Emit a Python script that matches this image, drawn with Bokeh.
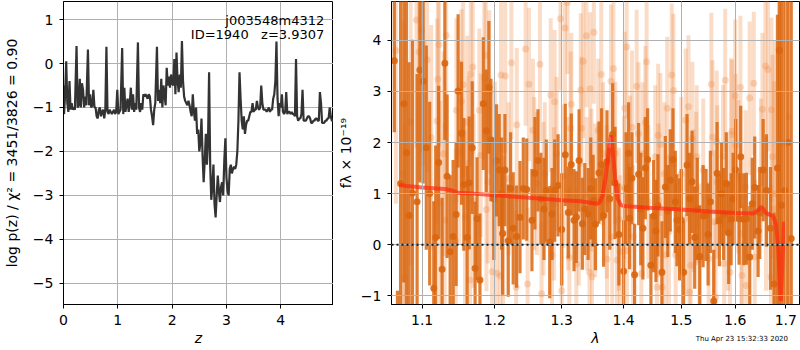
from bokeh.plotting import figure
from bokeh.layouts import row, column
from bokeh.models import (ColumnDataSource, FixedTicker, Label, Span, Div,
                          CustomJSTickFormatter, PrintfTickFormatter)
from bokeh.embed import file_html
from bokeh.resources import INLINE

# ---------------- left panel data: log p(z) ----------------
z_grid = [0.00, 0.01, 0.03, 0.05, 0.07, 0.09, 0.11, 0.13, 0.15, 0.17, 0.19, 0.21, 0.24, 0.26, 0.28, 0.30,
          0.32, 0.34, 0.36, 0.38, 0.40, 0.42, 0.45, 0.47, 0.49, 0.51, 0.53, 0.55, 0.57, 0.59, 0.61, 0.63,
          0.65, 0.67, 0.69, 0.71, 0.73, 0.75, 0.77, 0.79, 0.81, 0.83, 0.85, 0.87, 0.89, 0.91, 0.93, 0.95,
          0.97, 0.99, 1.01, 1.03, 1.05, 1.08, 1.10, 1.12, 1.14, 1.16, 1.18, 1.20, 1.22, 1.24, 1.26, 1.28,
          1.30, 1.32, 1.34, 1.37, 1.39, 1.41, 1.43, 1.45, 1.47, 1.49, 1.51, 1.53, 1.55, 1.57, 1.59, 1.61,
          1.63, 1.65, 1.67, 1.69, 1.72, 1.74, 1.76, 1.78, 1.80, 1.82, 1.84, 1.86, 1.88, 1.90, 1.92, 1.94,
          1.96, 1.98, 2.00, 2.02, 2.04, 2.06, 2.08, 2.10, 2.12, 2.14, 2.16, 2.18, 2.20, 2.22, 2.24, 2.26,
          2.28, 2.30, 2.32, 2.34, 2.36, 2.38, 2.40, 2.42, 2.44, 2.46, 2.48, 2.50, 2.52, 2.54, 2.56, 2.58,
          2.60, 2.62, 2.64, 2.66, 2.68, 2.70, 2.72, 2.74, 2.76, 2.78, 2.80, 2.82, 2.84, 2.86, 2.88, 2.90,
          2.92, 2.94, 2.96, 2.98, 3.00, 3.02, 3.04, 3.06, 3.08, 3.10, 3.12, 3.14, 3.16, 3.18, 3.20, 3.22,
          3.24, 3.26, 3.28, 3.30, 3.32, 3.34, 3.36, 3.38, 3.40, 3.42, 3.44, 3.46, 3.48, 3.50, 3.52, 3.54,
          3.56, 3.58, 3.60, 3.62, 3.64, 3.66, 3.68, 3.70, 3.72, 3.74, 3.76, 3.78, 3.80, 3.82, 3.84, 3.86,
          3.88, 3.90, 3.92, 3.94, 3.96, 3.98, 4.00, 4.02, 4.04, 4.06, 4.08, 4.10, 4.12, 4.14, 4.16, 4.18,
          4.20, 4.22, 4.24, 4.26, 4.28, 4.30, 4.32, 4.34, 4.36, 4.38, 4.40, 4.42, 4.44, 4.46, 4.48, 4.50,
          4.52, 4.54, 4.56, 4.58, 4.60, 4.62, 4.64, 4.66, 4.68, 4.70, 4.72, 4.74, 4.76, 4.78, 4.80, 4.82,
          4.84, 4.86, 4.88, 4.90, 4.92, 4.94, 4.96]
log_pz = [-0.50, -1.15, -0.70, 0.05, -0.90, -1.10, -0.40, -1.05, -0.90, -1.05, -1.00, -1.05, 0.40, -1.00, -0.95, -0.35,
          -1.00, -0.45, -0.60, -1.00, -0.75, -0.95, 0.32, -0.95, -0.70, -1.00, -0.95, -0.60, -1.00, -1.00, -1.20, -1.25,
          -1.05, -1.00, -1.20, -1.10, -1.05, -1.25, -1.05, 0.38, -1.10, -1.15, -1.05, -1.10, -1.15, -1.10, -1.05, -1.15,
          -1.10, -0.60, -1.15, -1.10, -1.05, 0.35, -1.15, -0.55, -1.10, -0.95, -0.80, -1.10, -0.90, -0.55, -1.05, -0.70,
          -1.10, -0.90, -1.05, 0.48, -1.00, -1.10, -0.90, -1.05, -0.70, -0.75, -0.70, -0.75, -0.80, -0.70, -0.75, -1.05,
          -1.20, -1.40, -1.05, -0.90, 0.38, -0.85, -0.60, -0.90, -0.35, -1.00, -0.50, -0.70, -0.95, -0.10, -0.50, -0.30,
          -0.55, -0.25, -0.45, -0.50, 0.10, -0.70, 0.25, -0.40, -0.65, -0.25, -0.55, 0.51, -0.40, -0.75, -0.85, -0.90,
          -0.95, -0.85, -0.95, -1.10, -1.20, -0.70, -1.10, -1.30, -1.00, -1.60, -1.50, -2.00, -1.80, -1.25, -2.10, -2.70,
          -2.20, -1.60, -2.30, -1.80, -0.20, -2.30, -3.10, -2.80, -2.30, -3.20, -3.50, -3.00, -2.55, -2.90, -3.15, -2.80,
          -2.70, -3.00, -2.20, -1.70, -2.60, -2.90, -3.00, -2.40, -2.30, -2.50, -2.40, -2.35, -2.40, -2.30, -2.00, -1.30,
          -0.20, -0.80, -1.30, -1.50, -1.20, -1.60, -1.40, -1.30, -1.30, -1.20, -1.10, -1.10, -0.90, -1.10, -1.05, -1.05,
          -0.85, -1.00, -1.05, -1.00, -0.50, -0.90, -1.05, -1.05, -1.05, -1.10, -1.05, -1.00, -1.10, -1.05, -1.05, -0.80,
          -0.70, -0.40, 0.50, -0.80, -1.20, -0.90, -1.00, -0.70, -1.10, -1.15, -1.10, -0.65, -1.15, -1.10, -1.10, -1.15,
          -1.10, -1.15, -1.15, -1.20, 0.10, -1.20, -1.30, -1.25, -1.25, -1.15, -0.60, -1.30, -1.30, -1.30, -1.25, -1.20,
          -1.20, -1.25, -1.35, -1.35, -1.30, -1.30, -1.25, -1.25, -1.30, -1.30, -0.65, -0.90, -1.35, -1.35, -1.35, -1.30,
          -1.30, -1.25, -1.25, -1.00, -1.20, -1.30, -1.30]

# ---------------- right panel data: spectrum ----------------
# dark (grism 1) points: wavelength, flux, error
wave_a = [1.064, 1.068, 1.072, 1.0762, 1.0795, 1.083, 1.0874, 1.0934, 1.097, 1.1013, 1.1055, 1.1100, 1.1154,
          1.118, 1.122, 1.1266, 1.1303, 1.1334, 1.1375, 1.1416, 1.1457, 1.1484, 1.1531, 1.1563, 1.1609, 1.1637,
          1.1680, 1.1720, 1.1748, 1.1788, 1.1835, 1.1877, 1.1915, 1.1944, 1.1985, 1.2025, 1.2063, 1.2098, 1.2112,
          1.2146, 1.2194, 1.2229, 1.2267, 1.2317, 1.2367, 1.2416, 1.2467, 1.2545, 1.2590, 1.2636, 1.2680, 1.2727,
          1.2762, 1.2815, 1.2850, 1.2891, 1.2943, 1.3000, 1.3056, 1.3103, 1.3150, 1.3193, 1.3230, 1.3273, 1.3325,
          1.3364, 1.3418, 1.3460, 1.3499, 1.3536, 1.3592, 1.3635, 1.3668, 1.3724, 1.3770, 1.3817, 1.3857, 1.3920,
          1.4000, 1.4040, 1.4083, 1.4100, 1.4140, 1.4185, 1.4253, 1.4290, 1.4327, 1.4368, 1.4408, 1.4465, 1.4512,
          1.4552, 1.4587, 1.4657, 1.4717, 1.4760, 1.4804, 1.4852, 1.4893, 1.4923, 1.4970, 1.5000, 1.5042, 1.5104,
          1.5150, 1.5195, 1.5243, 1.5290, 1.5335, 1.5397, 1.5452, 1.5490, 1.5532, 1.5594, 1.5657, 1.5700, 1.5740,
          1.5781, 1.5830, 1.5876, 1.5922, 1.5960, 1.6010, 1.6075, 1.6106, 1.6164, 1.6216, 1.6281, 1.6330, 1.6378,
          1.6445, 1.6477, 1.6544, 1.6610, 1.6690, 1.6764, 1.6830, 1.6870, 1.6912, 1.6979, 1.7040, 1.7110]
flux_a = [3.60, -1.60, 1.20, 2.76, 1.80, 0.57, 1.01, 0.84, 3.42, 3.20, 1.90, 1.00, -0.85,
          0.14, 1.61, -0.48, 3.55, 1.34, -0.14, 0.16, 0.59, 3.01, 2.18, 1.18, 0.14, 1.21,
          1.90, -0.46, 0.51, -0.69, 2.76, 2.23, 3.08, 2.05, 0.90, 1.65, 1.46, 1.00, 0.22,
          1.46, 0.08, 1.10, 0.32, 0.16, 0.54, 1.10, 1.08, 0.48, 1.40, 1.65, 0.90, 0.70,
          1.06, 0.05, 0.60, 1.06, 1.16, 0.30, 1.76, 0.63, 1.57, 0.48, 0.54, 1.65, 0.41,
          0.70, 0.60, 1.10, 0.86, 0.40, 1.41, 1.57, 0.57, 1.63, 0.90, 2.16, 1.21, 0.20,
          -0.52, 1.10, 1.79, 0.52, 1.30, -0.59, 1.38, 0.70, 0.32, 1.50, 1.67, -0.40, 0.56,
          0.27, 0.77, -0.54, 1.13, 0.66, 1.26, 1.67, 0.84, 0.48, 0.30, 0.48, -0.54, 1.56,
          0.90, 1.23, 0.14, 0.70, -0.23, 0.56, 0.58, 0.20, 0.84, -1.10, 1.40, 0.48, 1.00,
          0.60, 1.20, 0.23, 0.50, 0.90, 1.46, 0.51, 1.72, 0.50, 0.51, -0.24, 0.80, 1.12,
          0.27, 0.62, 1.46, 1.06, 0.32, -0.77, 1.50, 3.80, 0.77, 1.06, 2.00, 0.12]
err_a = [1.4, 0.7, 4.0, 3.5, 3.5, 3.0, 3.0, 2.5, 2.2, 2.0, 2.0, 1.8, 1.7,
         1.8, 1.5, 1.4, 1.5, 1.6, 1.5, 1.5, 1.4, 1.5, 1.4, 1.3, 1.4, 1.3,
         1.3, 1.3, 1.2, 1.3, 1.3, 1.2, 1.3, 1.2, 1.2, 1.1, 1.1, 1.1, 1.2,
         1.1, 1.1, 1.1, 1.1, 1.0, 1.1, 1.0, 1.0, 1.0, 1.1, 1.0, 0.9, 1.0,
         1.0, 1.1, 0.9, 1.0, 1.0, 1.1, 1.0, 0.9, 1.0, 1.0, 0.9, 1.0, 0.9,
         0.9, 0.9, 1.0, 0.9, 0.9, 1.0, 1.1, 1.0, 1.0, 1.0, 1.0, 1.1, 1.0,
         1.0, 1.1, 1.0, 1.0, 0.9, 1.0, 1.0, 1.1, 1.0, 1.0, 1.0, 1.0, 1.1,
         1.0, 1.0, 1.0, 1.0, 0.9, 1.0, 1.0, 1.0, 0.9, 1.0, 1.0, 1.0, 1.0,
         0.9, 1.0, 1.0, 1.0, 1.0, 1.0, 0.9, 1.0, 1.0, 1.0, 1.0, 0.9, 1.0,
         0.9, 1.0, 1.0, 0.9, 0.9, 1.0, 0.9, 1.0, 0.9, 0.9, 1.0, 0.9, 1.0,
         0.9, 0.9, 1.0, 1.1, 1.2, 1.4, 3.0, 6.0, 5.0, 5.0, 6.0, 5.0]

# light (grism 2) points: wavelength, flux, error
wave_b = [1.066, 1.0750, 1.0770, 1.0850, 1.0926, 1.0960, 1.0992, 1.1013, 1.1066, 1.1120, 1.1200, 1.1210,
          1.1224, 1.1240, 1.1287, 1.1300, 1.1322, 1.1450, 1.1460, 1.1500, 1.1530, 1.1553, 1.1580, 1.1610,
          1.1630, 1.1650, 1.1660, 1.1687, 1.1700, 1.1780, 1.1800, 1.1850, 1.1870, 1.1880, 1.1900, 1.1920,
          1.1960, 1.2000, 1.2030, 1.2080, 1.2090, 1.2120, 1.2150, 1.2200, 1.2240, 1.2310, 1.2320, 1.2450,
          1.2480, 1.2500, 1.2560, 1.2580, 1.2620, 1.2666, 1.2690, 1.2720, 1.2740, 1.2830, 1.2850, 1.2880,
          1.2890, 1.2920, 1.2981, 1.3000, 1.3030, 1.3051, 1.3090, 1.3100, 1.3120, 1.3140, 1.3150, 1.3230,
          1.3270, 1.3300, 1.3310, 1.3340, 1.3390, 1.3395, 1.3440, 1.3450, 1.3470, 1.3480, 1.3510, 1.3530,
          1.3580, 1.3630, 1.3660, 1.3720, 1.3725, 1.3790, 1.3810, 1.3830, 1.3860, 1.3890, 1.3920, 1.3940,
          1.4010, 1.4020, 1.4050, 1.4055, 1.4110, 1.4140, 1.4160, 1.4220, 1.4250, 1.4300, 1.4320, 1.4370,
          1.4390, 1.4420, 1.4540, 1.4570, 1.4590, 1.4600, 1.4630, 1.4660, 1.4700, 1.4720, 1.4750, 1.4780,
          1.4830, 1.4860, 1.4900, 1.5000, 1.5080, 1.5090, 1.5130, 1.5150, 1.5170, 1.5200, 1.5220, 1.5270,
          1.5280, 1.5330, 1.5400, 1.5500, 1.5550, 1.5570, 1.5600, 1.5630, 1.5650, 1.5660, 1.5770, 1.5790,
          1.5810, 1.5860, 1.5900, 1.5920, 1.5940, 1.6000, 1.6010, 1.6060, 1.6100, 1.6120, 1.6130, 1.6200,
          1.6210, 1.6280, 1.6360, 1.6380, 1.6500, 1.6530, 1.6590, 1.6600, 1.6640, 1.6700, 1.6710, 1.6730,
          1.6760, 1.6780, 1.6860, 1.6950, 1.7050]
flux_b = [3.80, 1.39, -0.65, 2.40, 4.40, 3.77, 4.20, 3.95, 3.62, 2.10, 2.42, 3.24,
          3.92, 0.82, 1.78, 0.48, 4.10, 0.08, 2.63, 1.81, 2.81, 3.13, 0.54, 2.39,
          1.59, -0.69, 3.34, 3.48, 0.86, 2.63, 1.75, 3.27, 3.71, 0.69, 1.23, 2.99,
          -0.53, 1.59, -0.56, -0.61, 3.32, 0.23, 3.30, 1.29, 3.56, -0.83, 2.35, 3.83,
          -0.77, 3.14, 2.24, 1.39, 1.20, 3.53, -0.96, 0.90, 1.39, 2.93, -0.20, 0.80,
          2.80, 1.78, 4.42, -0.90, 1.34, 4.24, 4.74, 1.00, -0.25, 2.28, 2.75, -0.38,
          0.60, 3.03, 2.28, 3.59, 4.09, 1.00, -0.54, 3.05, 1.26, -0.63, 4.16, 0.87,
          2.24, 3.33, 1.78, 0.84, -0.28, 3.20, 0.15, 3.45, 1.79, -0.30, 0.50, -0.14,
          1.12, 2.67, 3.87, -0.12, 1.52, 2.30, 0.15, 3.10, 2.17, -0.57, 1.78, 2.39,
          3.58, 0.84, 1.72, -0.83, 2.14, 0.87, 1.96, -0.83, 1.39, -0.20, 2.67, 0.26,
          3.32, 3.02, -0.20, 1.39, 2.44, 0.52, 2.70, -0.93, -0.40, 2.08, 0.86, 1.10,
          1.72, -0.30, 1.46, -0.27, 3.14, 2.11, 0.45, -1.03, 2.01, 1.23, 1.73, -0.37,
          3.22, 0.60, -0.54, 2.15, 2.22, 2.91, 1.94, 1.33, 3.08, 0.22, -0.60, 1.13,
          -0.80, 2.87, 3.16, -0.24, 1.46, 2.65, 3.50, 0.60, 3.43, -0.63, 2.64, 1.72,
          0.70, 1.00, 3.82, 2.00, 2.50]
err_b = [3.0, 3.0, 3.0, 2.8, 2.5, 2.5, 2.4, 2.4, 2.2, 2.2, 2.0, 2.0,
         2.0, 2.0, 2.0, 1.9, 1.9, 1.8, 1.8, 1.8, 1.8, 1.8, 1.7, 1.7,
         1.7, 1.7, 1.7, 1.7, 1.7, 1.6, 1.6, 1.6, 1.6, 1.6, 1.6, 1.6,
         1.6, 1.6, 1.5, 1.5, 1.5, 1.5, 1.5, 1.5, 1.5, 1.5, 1.5, 1.5,
         1.5, 1.5, 1.4, 1.5, 1.4, 1.5, 1.4, 1.5, 1.4, 1.5, 1.4, 1.5,
         1.4, 1.5, 1.4, 1.5, 1.4, 1.5, 1.4, 1.5, 1.4, 1.5, 1.4, 1.5,
         1.4, 1.5, 1.4, 1.5, 1.4, 1.5, 1.4, 1.5, 1.4, 1.5, 1.4, 1.5,
         1.4, 1.5, 1.4, 1.5, 1.4, 1.5, 1.4, 1.5, 1.4, 1.5, 1.4, 1.5,
         1.4, 1.5, 1.4, 1.5, 1.4, 1.5, 1.4, 1.5, 1.4, 1.5, 1.4, 1.5,
         1.4, 1.5, 1.4, 1.5, 1.4, 1.5, 1.4, 1.5, 1.4, 1.5, 1.4, 1.5,
         1.4, 1.5, 1.4, 1.5, 1.4, 1.5, 1.4, 1.5, 1.4, 1.5, 1.4, 1.5,
         1.4, 1.5, 1.4, 1.5, 1.4, 1.5, 1.4, 1.5, 1.4, 1.5, 1.4, 1.5,
         1.4, 1.5, 1.4, 1.5, 1.4, 1.5, 1.4, 1.5, 1.4, 1.5, 1.4, 1.5,
         1.4, 1.5, 1.4, 1.5, 1.4, 1.5, 1.5, 1.5, 1.6, 1.8, 1.8, 2.0,
         2.5, 3.0, 5.0, 6.0, 6.0]

# best-fit model
wave_m = [1.070, 1.080, 1.100, 1.130, 1.140, 1.150, 1.170, 1.200, 1.250, 1.300, 1.330, 1.355, 1.360,
          1.365, 1.370, 1.375, 1.379, 1.382, 1.386, 1.390, 1.395, 1.400, 1.450, 1.500, 1.550, 1.600,
          1.635, 1.645, 1.650, 1.655, 1.660, 1.670, 1.675, 1.680, 1.685, 1.688, 1.690, 1.692, 1.696]
flux_m = [1.17, 1.15, 1.12, 1.09, 1.06, 1.01, 1.00, 0.97, 0.92, 0.87, 0.85, 0.80, 0.82,
          0.95, 1.30, 1.80, 2.14, 1.80, 1.30, 0.90, 0.78, 0.76, 0.72, 0.69, 0.65, 0.62,
          0.61, 0.68, 0.74, 0.70, 0.62, 0.58, 0.55, 0.40, -0.10, -0.80, -1.10, -0.60, 0.45]

x_ticks_left = [0, 1, 2, 3, 4]
y_ticks_left = [-5, -4, -3, -2, -1, 0, 1]
x_ticks_right = [1.1, 1.2, 1.3, 1.4, 1.5, 1.6, 1.7]
y_ticks_right = [-1, 0, 1, 2, 3, 4]
timestamp = "Thu Apr 23 15:32:33 2020"

FONT = "DejaVu Sans"
GRID = "#b0b0b0"
HEIGHT = 350


def minus_fmt():
    return CustomJSTickFormatter(code="return String(tick).replace('-', '\u2212');")


def style(p):
    p.outline_line_color = "black"
    p.outline_line_width = 1
    p.outline_line_alpha = 1
    p.background_fill_color = "white"
    p.border_fill_color = "white"
    for ax in p.axis:
        ax.axis_line_color = "black"
        ax.major_tick_line_color = "black"
        ax.major_tick_out = 4
        ax.major_tick_in = 0
        ax.minor_tick_line_color = None
        ax.major_label_standoff = 6
        ax.major_label_text_font = FONT
        ax.major_label_text_font_size = "14px"
        ax.major_label_text_color = "black"
        ax.axis_label_text_font = FONT
        ax.axis_label_text_font_size = "14px"
        ax.axis_label_text_color = "black"
        ax.axis_label_text_font_style = "normal"
        ax.axis_label_standoff = 2
    for g in p.grid:
        g.grid_line_color = GRID
        g.grid_line_width = 1


# ---------------- left figure ----------------
p1 = figure(width=333, height=HEIGHT, x_range=(0, 4.97), y_range=(-5.48, 1.41),
            output_backend="svg", toolbar_location=None,
            min_border_left=62, min_border_right=0, min_border_top=1, min_border_bottom=46)
p1.line(z_grid, log_pz, line_color="#333333", line_width=2.2, line_alpha=1.0)
p1.xaxis.ticker = FixedTicker(ticks=x_ticks_left)
p1.yaxis.ticker = FixedTicker(ticks=y_ticks_left)
p1.xaxis.formatter = minus_fmt()
p1.yaxis.formatter = minus_fmt()
p1.xaxis.axis_label = "z"
p1.yaxis.axis_label = "log p(z) / \u03c7\u00b2 = 3451/3826 = 0.90"
style(p1)
p1.xaxis.axis_label_text_font_style = "italic"
p1.yaxis.axis_label_standoff = 10
p1.add_layout(Label(x=4.80, y=0.98, text="j003548m4312", text_align="right",
                    text_baseline="alphabetic", text_font=FONT, text_font_size="13px",
                    text_color="black"))
p1.add_layout(Label(x=4.80, y=0.67, text="ID=1940\u00a0\u00a0\u00a0z=3.9307", text_align="right",
                    text_baseline="alphabetic", text_font=FONT, text_font_size="13px",
                    text_color="black"))

# ---------------- right figure ----------------
src_a = ColumnDataSource(dict(x=wave_a, y=flux_a,
                              lo=[f - e for f, e in zip(flux_a, err_a)],
                              hi=[f + e for f, e in zip(flux_a, err_a)]))
src_b = ColumnDataSource(dict(x=wave_b, y=flux_b,
                              lo=[f - e for f, e in zip(flux_b, err_b)],
                              hi=[f + e for f, e in zip(flux_b, err_b)]))

p2 = figure(width=467, height=HEIGHT, x_axis_type="log", x_range=(1.0604, 1.728), y_range=(-1.17, 4.76),
            output_backend="svg", toolbar_location=None,
            min_border_left=58, min_border_right=1, min_border_top=1, min_border_bottom=46)
LIGHT = "#ef8a45"
DARK = "#d9660f"
p2.segment(x0="x", y0="lo", x1="x", y1="hi", source=src_b, line_color=LIGHT, line_alpha=0.3, line_width=4)
p2.scatter("x", "y", source=src_b, size=7, fill_color=LIGHT, fill_alpha=0.3, line_color=None)
p2.segment(x0="x", y0="lo", x1="x", y1="hi", source=src_a, line_color=DARK, line_alpha=0.85, line_width=3.2)
p2.scatter("x", "y", source=src_a, size=7, fill_color=DARK, fill_alpha=0.9, line_color=None)
p2.line(wave_m, flux_m, line_color="#ff2a10", line_alpha=0.7, line_width=4)
p2.add_layout(Span(location=0, dimension="width", line_color="black", line_dash="2 3",
                   line_width=2, line_alpha=0.85))
p2.xaxis.ticker = FixedTicker(ticks=x_ticks_right)
p2.xaxis.formatter = PrintfTickFormatter(format="%.1f")
p2.yaxis.ticker = FixedTicker(ticks=y_ticks_right)
p2.yaxis.formatter = minus_fmt()
p2.xaxis.axis_label = "\u03bb"
p2.yaxis.axis_label = "f\u03bb \u00d7 10\u207b\u00b9\u2079"
style(p2)
p2.xaxis.axis_label_text_font_style = "italic"
p2.yaxis.axis_label_standoff = 4
for g in p2.grid:
    g.level = "annotation"

stamp = Div(text=timestamp, width=120, height=10, margin=(-16, 0, 0, 668),
            styles={"font-size": "7px", "font-family": FONT, "text-align": "right",
                    "line-height": "10px", "color": "black", "white-space": "nowrap"})

layout = column(row(p1, p2, spacing=0), stamp, spacing=0)
open("out.html", "w").write(file_html(layout, INLINE))
